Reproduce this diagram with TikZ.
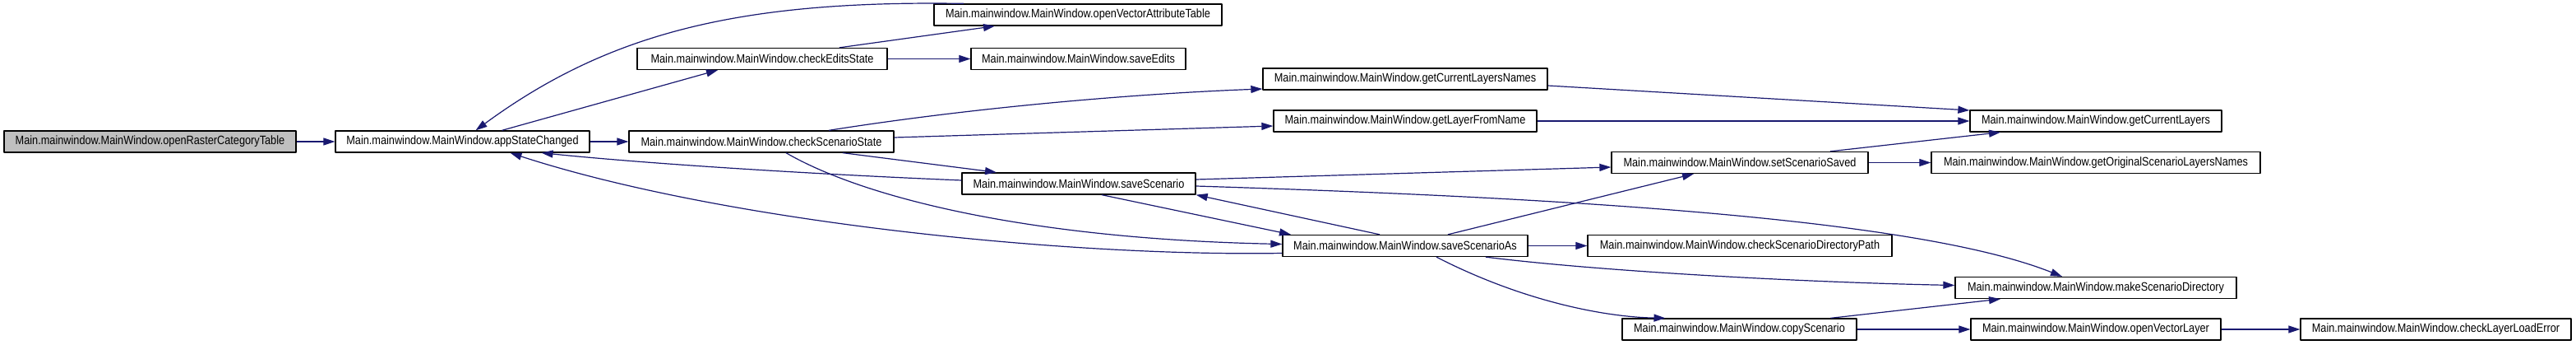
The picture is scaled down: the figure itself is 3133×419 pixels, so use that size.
\documentclass[tikz,border=0pt]{standalone}
\usepackage{fontspec}
\newfontfamily\dxfont[FakeStretch=0.86]{Liberation Sans}
\definecolor{edgeblue}{HTML}{191970}
\definecolor{curgray}{HTML}{BFBFBF}
\usetikzlibrary{calc,arrows.meta,positioning}

\begin{document}
\begin{tikzpicture}[x=1pt, y=-1pt, >={Triangle[length=14pt,width=9pt]}, line join=round,
    fn/.style={draw=black, line width=1.3pt, fill=white, minimum height=26pt, inner sep=0pt,
      font=\dxfont\fontsize{14.8}{16}\selectfont},
    cur/.style={fn, fill=curgray},
    call/.style={->, draw=edgeblue, fill=none, line width=1.2pt}]
    \useasboundingbox (0,0) rectangle (3133,419);
    \node[cur, minimum width=355pt] (ort) at (182.5,172) {Main.mainwindow.MainWindow.openRasterCategoryTable};
    \node[fn, minimum width=309pt] (asc) at (562.5,172) {Main.mainwindow.MainWindow.appStateChanged};
    \node[fn, minimum width=322pt] (css) at (926,172) {Main.mainwindow.MainWindow.checkScenarioState};
    \node[fn, minimum width=304pt] (ces) at (927,71.5) {Main.mainwindow.MainWindow.checkEditsState};
    \node[fn, minimum width=350pt] (ovat) at (1311,18) {Main.mainwindow.MainWindow.openVectorAttributeTable};
    \node[fn, minimum width=261pt] (sed) at (1311.5,71.5) {Main.mainwindow.MainWindow.saveEdits};
    \node[fn, minimum width=284pt] (ssc) at (1312,223) {Main.mainwindow.MainWindow.saveScenario};
    \node[fn, minimum width=298pt] (ssa) at (1709,298.5) {Main.mainwindow.MainWindow.saveScenarioAs};
    \node[fn, minimum width=346pt] (gcln) at (1709,96) {Main.mainwindow.MainWindow.getCurrentLayersNames};
    \node[fn, minimum width=320pt] (glfn) at (1709,147) {Main.mainwindow.MainWindow.getLayerFromName};
    \node[fn, minimum width=312pt] (sss) at (2116,197.5) {Main.mainwindow.MainWindow.setScenarioSaved};
    \node[fn, minimum width=370pt] (csdp) at (2116,298.5) {Main.mainwindow.MainWindow.checkScenarioDirectoryPath};
    \node[fn, minimum width=285pt] (cps) at (2115.5,400) {Main.mainwindow.MainWindow.copyScenario};
    \node[fn, minimum width=306pt] (gcl) at (2549,147) {Main.mainwindow.MainWindow.getCurrentLayers};
    \node[fn, minimum width=400pt] (gosl) at (2549,197.5) {Main.mainwindow.MainWindow.getOriginalScenarioLayersNames};
    \node[fn, minimum width=342pt] (msd) at (2549,349.5) {Main.mainwindow.MainWindow.makeScenarioDirectory};
    \node[fn, minimum width=304pt] (ovl) at (2549,400) {Main.mainwindow.MainWindow.openVectorLayer};
    \node[fn, minimum width=329pt] (clle) at (2962.5,400) {Main.mainwindow.MainWindow.checkLayerLoadError};

    \draw[call] (ort) -- (asc);
    \draw[call] (asc) -- (css);
    \draw[call] ([xshift=48pt]asc.north) -- ([xshift=-54pt]ces.south);
    \draw[call] ([xshift=-139pt]ovat.north) .. controls (900,0) and (740,40) .. ([xshift=16pt]asc.north);
    \draw[call] ([xshift=94pt]ces.north) -- ([xshift=-101pt]ovat.south);
    \draw[call] (ces) -- (sed);
    \draw[call] ([xshift=82pt]css.north) .. controls (1200,128) and (1400,113) .. ([yshift=-12pt]gcln.west);
    \draw[call] ([yshift=5pt]css.east) -- ([yshift=-6pt]glfn.west);
    \draw[call] ([xshift=99pt]css.south) -- ([xshift=-100pt]ssc.north);
    \draw[call] ([xshift=30pt]css.south) .. controls (1050,240) and (1250,290) .. ([yshift=2pt]ssa.west);
    \draw[call] ([yshift=4pt]ssc.west) .. controls (1000,212) and (800,200) .. ([xshift=96pt]asc.south);
    \draw[call] ([yshift=-9pt]ssa.west) .. controls (1300,312) and (880,270) .. ([xshift=58pt]asc.south);
    \draw[call] ([xshift=28pt]ssc.south) -- ([xshift=-139pt]ssa.north);
    \draw[call] ([xshift=-31pt]ssa.north) -- (ssc.south east);
    \draw[call] ([yshift=5pt]ssc.east) -- ([yshift=-5.5pt]sss.west);
    \draw[call] ([yshift=-3pt]ssc.east) .. controls (1900,240) and (2330,265) .. ([xshift=-41pt]msd.north);
    \draw[call] ([xshift=52pt]ssa.north) -- ([xshift=-56pt]sss.south);
    \draw[call] (ssa) -- (csdp);
    \draw[call] ([xshift=98pt]ssa.south) .. controls (1950,330) and (2200,343) .. ([yshift=3pt]msd.west);
    \draw[call] ([xshift=38pt]ssa.south) .. controls (1850,365) and (1950,385) .. ([xshift=-90pt]cps.north);
    \draw[call] ([xshift=110pt]sss.north) -- ([xshift=-116pt]gcl.south);
    \draw[call] (sss) -- (gosl);
    \draw[call] ([yshift=-8pt]gcln.east) -- ([yshift=13pt]gcl.west);
    \draw[call] (glfn) -- (gcl);
    \draw[call] ([xshift=111pt]cps.north) -- ([xshift=-116pt]msd.south);
    \draw[call] (cps) -- (ovl);
    \draw[call] (ovl) -- (clle);
\end{tikzpicture}
\end{document}
